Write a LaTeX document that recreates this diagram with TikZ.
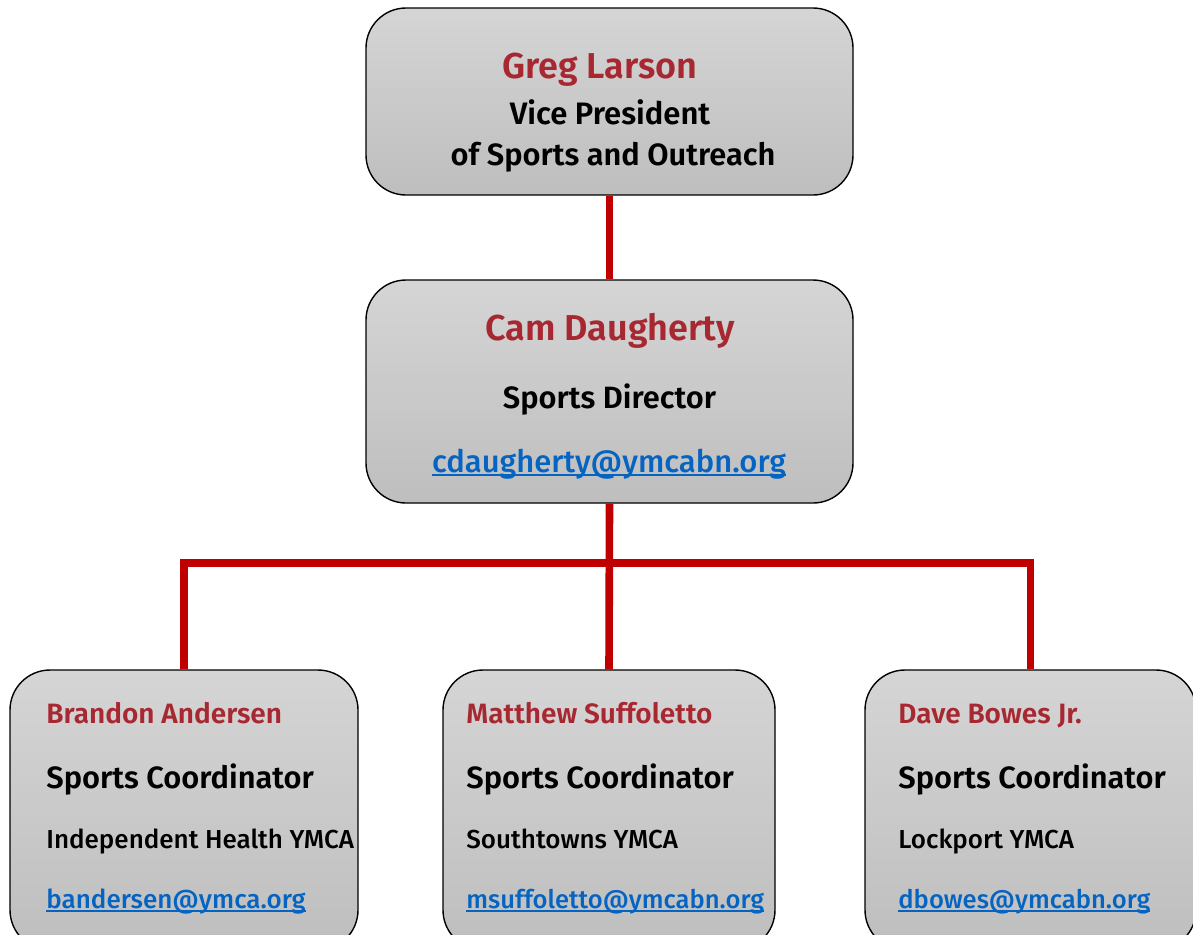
\documentclass[tikz,border=0pt]{standalone}
\usepackage{fontspec}
\setmainfont{Fira Sans}[UprightFont=* Medium, BoldFont=* SemiBold]
\definecolor{col_a82832}{RGB}{168,40,50}
\definecolor{col_c00000}{RGB}{192,0,0}
\definecolor{col_0563c1}{RGB}{5,99,193}
\definecolor{col_d4d4d4}{RGB}{213,213,213}
\definecolor{col_bfbfbf}{RGB}{190,190,190}
\definecolor{col_000000}{RGB}{0,0,0}
\newcommand{\orglink}[1]{\textcolor{col_0563c1}{\setbox0\hbox{#1}\rlap{\rule[-1.8pt]{\wd0}{0.8pt}}\box0}}

\begin{document}
\begin{tikzpicture}[x=0.5pt,y=-0.5pt,
  card/.style={draw=col_000000, line width=0.7pt, rounded corners=20pt,
    top color=col_d4d4d4, bottom color=col_bfbfbf, inner sep=0pt},
  wire/.style={col_c00000, line width=3.8pt},
  nametxt/.style={text=col_a82832},
  roletxt/.style={text=col_000000}]
\useasboundingbox (0,0) rectangle (1193,934);
\clip (0,0) rectangle (1193,934);
%% boxes
\node[card, minimum width=243.5pt, minimum height=93.5pt] (vp) at (609.5,101.5) {};
\node[card, minimum width=243.5pt, minimum height=111.5pt] (dir) at (609.5,391.5) {};
\node[card, minimum width=174pt, minimum height=140pt] (cl) at (184,810) {};
\node[card, minimum width=166pt, minimum height=140pt] (cm) at (609,810) {};
\node[card, minimum width=165.5pt, minimum height=140pt] (cr) at (1030.5,810) {};
%% connectors
\coordinate (bar) at (609.5,563);
\draw[wire] (vp.south) -- (dir.north);
\draw[wire] (dir.south) -- (cm.north);
\draw[wire] (cl.north) |- (bar) -| (cr.north);
%% top box
\node[nametxt, anchor=base, font=\fontsize{18}{20}\selectfont\bfseries] (vpname) at (600,78) {Greg Larson};
\node[roletxt, anchor=base, font=\fontsize{15.5}{17}\selectfont\bfseries] (vprole) at (610,124) {Vice President};
\node[roletxt, anchor=base, font=\fontsize{15.4}{17}\selectfont\bfseries] (vprole2) at (613,165) {of Sports and Outreach};
%% middle box
\node[nametxt, anchor=base, font=\fontsize{18}{20}\selectfont\bfseries] (dirname) at (610,340) {Cam Daugherty};
\node[roletxt, anchor=base, font=\fontsize{15.4}{17}\selectfont\bfseries] (dirrole) at (609.5,408) {Sports Director};
\node[anchor=base, font=\fontsize{15.5}{17}\selectfont] (dirmail) at (609,472) {\orglink{cdaugherty@ymcabn.org}};
%% left coordinator
\node[nametxt, anchor=base west, inner sep=0pt, font=\fontsize{14}{15}\selectfont\bfseries] (clname) at (46,723) {Brandon Andersen};
\node[roletxt, anchor=base west, inner sep=0pt, font=\fontsize{15.4}{17}\selectfont\bfseries] (clrole) at (46,788) {Sports Coordinator};
\node[roletxt, anchor=base west, inner sep=0pt, font=\fontsize{13}{15}\selectfont] (clsite) at (46,848) {Independent Health YMCA};
\node[anchor=base west, inner sep=0pt, font=\fontsize{13}{15}\selectfont] (clmail) at (46,908) {\orglink{bandersen@ymca.org}};
%% middle coordinator
\node[nametxt, anchor=base west, inner sep=0pt, font=\fontsize{14}{15}\selectfont\bfseries] (cmname) at (466,723) {Matthew Suffoletto};
\node[roletxt, anchor=base west, inner sep=0pt, font=\fontsize{15.4}{17}\selectfont\bfseries] (cmrole) at (466,788) {Sports Coordinator};
\node[roletxt, anchor=base west, inner sep=0pt, font=\fontsize{13}{15}\selectfont] (cmsite) at (466,848) {Southtowns YMCA};
\node[anchor=base west, inner sep=0pt, font=\fontsize{12.8}{15}\selectfont] (cmmail) at (466,908) {\orglink{msuffoletto@ymcabn.org}};
%% right coordinator
\node[nametxt, anchor=base west, inner sep=0pt, font=\fontsize{14}{15}\selectfont\bfseries] (crname) at (898,723) {Dave Bowes Jr.};
\node[roletxt, anchor=base west, inner sep=0pt, font=\fontsize{15.4}{17}\selectfont\bfseries] (crrole) at (898,788) {Sports Coordinator};
\node[roletxt, anchor=base west, inner sep=0pt, font=\fontsize{13}{15}\selectfont] (crsite) at (898,848) {Lockport YMCA};
\node[anchor=base west, inner sep=0pt, font=\fontsize{12.8}{15}\selectfont] (crmail) at (898,908) {\orglink{dbowes@ymcabn.org}};
\end{tikzpicture}
\end{document}
